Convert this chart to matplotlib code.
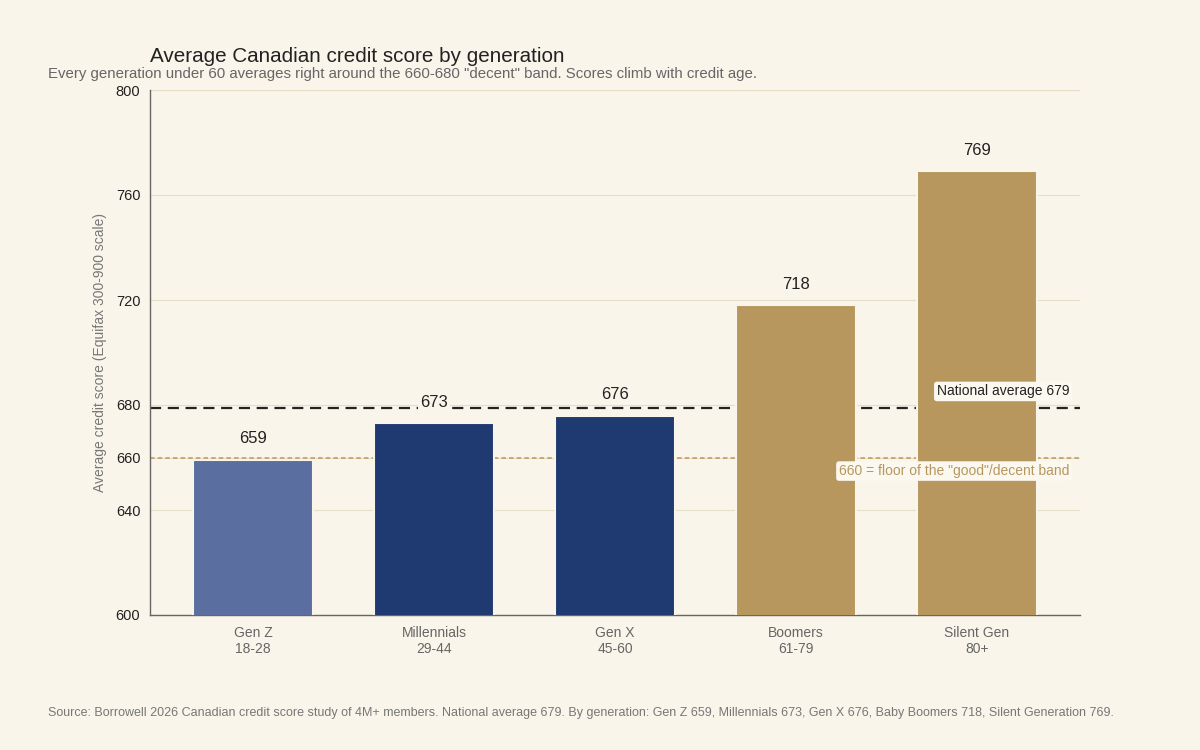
import matplotlib
matplotlib.use("Agg")
import matplotlib.pyplot as plt

plt.rcParams['font.family'] = ['Liberation Sans', 'DejaVu Sans']

# data
generations = ["Gen Z", "Millennials", "Gen X", "Boomers", "Silent Gen"]
age_ranges = ["18-28", "29-44", "45-60", "61-79", "80+"]
scores = [659, 673, 676, 718, 769]
national_avg = 679
good_floor = 660
y_ticks = [600, 640, 660, 680, 720, 760, 800]

bg = "#f9f5ea"
bar_colors = ["#5a6fa0", "#1f3a70", "#1f3a70", "#b8975f", "#b8975f"]
gold = "#b8975f"

fig = plt.figure(figsize=(12, 7.5), dpi=100, facecolor=bg)
ax = fig.add_axes([150 / 1200, 1 - 615 / 750, 930 / 1200, 525 / 750])
ax.set_facecolor(bg)

x = list(range(len(generations)))
ax.bar(x, scores, width=0.665, color=bar_colors, edgecolor=bg, linewidth=1.5, zorder=3)

ax.axhline(national_avg, color="#222222", lw=1.6, ls=(0, (5, 3)), zorder=2)
ax.axhline(good_floor, color="#c0955a", lw=1.1, ls=(0, (3, 2)), zorder=2)

for xi, s in zip(x, scores):
    ax.text(xi, s + 5.2, str(s), ha="center", va="bottom", fontsize=12, color="#222222",
            zorder=5, bbox=dict(boxstyle="square,pad=0.1", fc=bg, ec="none"))

ax.text(4.51, national_avg + 3.5, "National average 679", ha="right", va="bottom",
        fontsize=10, color="#222222", zorder=6,
        bbox=dict(boxstyle="round,pad=0.2", fc="#fbf8f0", ec="none"))
ax.text(4.51, good_floor - 2.5, '660 = floor of the "good"/decent band', ha="right", va="top",
        fontsize=10, color=gold, zorder=6,
        bbox=dict(boxstyle="round,pad=0.2", fc="#fbf8f0", ec="none"))

ax.set_xlim(-0.569, 4.569)
ax.set_ylim(600, 800)
ax.set_yticks(y_ticks)
ax.tick_params(axis="y", length=0, labelsize=10.5, labelcolor="#222222", pad=7)
ax.set_xticks(x)
ax.set_xticklabels([f"{g}\n{a}" for g, a in zip(generations, age_ranges)],
                   fontsize=10, color="#666666", linespacing=1.2)
ax.tick_params(axis="x", length=0, pad=8)
ax.grid(axis="y", color="#e6dfc8", lw=0.8, zorder=0)
for side in ["top", "right"]:
    ax.spines[side].set_visible(False)
for side in ["left", "bottom"]:
    ax.spines[side].set_color("#666666")
    ax.spines[side].set_linewidth(1)
ax.set_ylabel("Average credit score (Equifax 300-900 scale)", fontsize=10, color="#777777", labelpad=6)

fig.text(150 / 1200, 1 - 56 / 750, "Average Canadian credit score by generation",
         fontsize=14.9, color="#222222", va="center")
fig.text(48 / 1200, 1 - 74 / 750,
         'Every generation under 60 averages right around the 660-680 "decent" band. Scores climb with credit age.',
         fontsize=10.85, color="#666666", va="center")
fig.text(48 / 1200, 1 - 713 / 750,
         "Source: Borrowell 2026 Canadian credit score study of 4M+ members. National average 679. "
         "By generation: Gen Z 659, Millennials 673, Gen X 676, Baby Boomers 718, Silent Generation 769.",
         fontsize=9, color="#777777", va="center")

fig.savefig("out.png", dpi=100, facecolor=bg)
